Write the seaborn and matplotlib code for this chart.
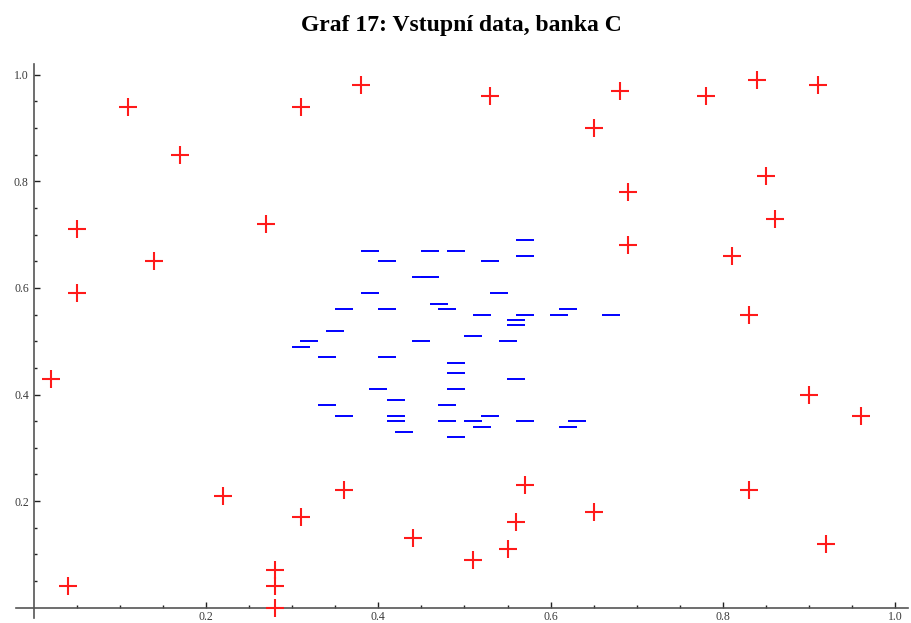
import numpy as np
import pandas as pd
import matplotlib
matplotlib.use("Agg")
import matplotlib.pyplot as plt
from matplotlib.ticker import FixedLocator
import seaborn as sns

# Class "+" (red crosses)
plus_x = [0.11, 0.17, 0.05, 0.14, 0.05, 0.27, 0.31, 0.38,
          0.53, 0.68, 0.65, 0.78, 0.84, 0.91, 0.69, 0.85, 0.86, 0.69, 0.81, 0.83,
          0.02, 0.04, 0.22, 0.28, 0.28, 0.28, 0.31, 0.36, 0.44,
          0.51, 0.55, 0.56, 0.57, 0.65, 0.83, 0.92, 0.90, 0.96]
plus_y = [0.94, 0.85, 0.71, 0.65, 0.59, 0.72, 0.94, 0.98,
          0.96, 0.97, 0.90, 0.96, 0.99, 0.98, 0.78, 0.81, 0.73, 0.68, 0.66, 0.55,
          0.43, 0.04, 0.21, 0.07, 0.04, 0.00, 0.17, 0.22, 0.13,
          0.09, 0.11, 0.16, 0.23, 0.18, 0.22, 0.12, 0.40, 0.36]

# Class "-" (blue dashes)
minus_x = [0.57, 0.39, 0.46, 0.49, 0.57, 0.41, 0.53, 0.45, 0.46, 0.39,
           0.54, 0.47, 0.36, 0.41, 0.48, 0.52, 0.57, 0.62, 0.61, 0.67,
           0.56, 0.56, 0.35, 0.51, 0.32, 0.45, 0.55, 0.31, 0.34, 0.41,
           0.49, 0.49, 0.56, 0.40, 0.49, 0.42, 0.34, 0.48, 0.36, 0.42,
           0.53, 0.42, 0.48, 0.51, 0.57, 0.63, 0.52, 0.62, 0.43, 0.49]
minus_y = [0.69, 0.67, 0.67, 0.67, 0.66, 0.65, 0.65, 0.62, 0.62, 0.59,
           0.59, 0.57, 0.56, 0.56, 0.56, 0.55, 0.55, 0.56, 0.55, 0.55,
           0.54, 0.53, 0.52, 0.51, 0.50, 0.50, 0.50, 0.49, 0.47, 0.47,
           0.46, 0.44, 0.43, 0.41, 0.41, 0.39, 0.38, 0.38, 0.36, 0.36,
           0.36, 0.35, 0.35, 0.35, 0.35, 0.35, 0.34, 0.34, 0.33, 0.32]

major_ticks = [0.2, 0.4, 0.6, 0.8, 1.0]
tick_labels = ["0.2", "0.4", "0.6", "0.8", "1.0"]
minor_ticks = [0.05, 0.10, 0.15, 0.25, 0.30, 0.35, 0.45, 0.50, 0.55,
               0.65, 0.70, 0.75, 0.85, 0.90, 0.95]

df_plus = pd.DataFrame({"x": plus_x, "y": plus_y})
df_minus = pd.DataFrame({"x": minus_x, "y": minus_y})

sns.set_style("white")

fig = plt.figure(figsize=(9.11, 6.23), dpi=100)
ax = fig.add_axes([0.018, 0.0075, 0.979, 0.8895])

sns.scatterplot(data=df_plus, x="x", y="y", marker="+", color="#ff1a1a",
                s=160, linewidth=1.5, ax=ax, legend=False, zorder=3)
sns.scatterplot(data=df_minus, x="x", y="y", marker="_", color="#0000ff",
                s=160, linewidth=1.4, ax=ax, legend=False, zorder=3)

ax.set_xlim(-0.02, 1.015)
ax.set_ylim(-0.02, 1.02)
ax.set_xlabel("")
ax.set_ylabel("")

# Axes crossing at the origin, Mathematica style
for side in ("top", "right"):
    ax.spines[side].set_visible(False)
for side in ("left", "bottom"):
    ax.spines[side].set_position(("data", 0))
    ax.spines[side].set_color("#555555")
    ax.spines[side].set_linewidth(1.2)

ax.set_xticks(major_ticks)
ax.set_xticklabels(tick_labels)
ax.set_yticks(major_ticks)
ax.set_yticklabels(tick_labels)
ax.xaxis.set_minor_locator(FixedLocator(minor_ticks))
ax.yaxis.set_minor_locator(FixedLocator(minor_ticks))

ax.tick_params(which="both", bottom=True, left=True, top=False, right=False,
               direction="in", color="#222222", width=1.0,
               labelsize=8.5, labelcolor="#3a3a3a")
ax.tick_params(which="major", length=4.5)
ax.tick_params(which="minor", length=2.5)
ax.tick_params(axis="x", pad=2.5)
ax.tick_params(axis="y", pad=3.5)
for lab in ax.get_xticklabels() + ax.get_yticklabels():
    lab.set_fontfamily("Liberation Serif")

fig.text(461 / 911, 1 - 25 / 623, "Graf 17: Vstupní data, banka C",
         ha="center", va="center", fontsize=17, fontweight="bold",
         color="black", fontfamily="Liberation Serif")

fig.savefig("out.png", dpi=100, facecolor="white")
